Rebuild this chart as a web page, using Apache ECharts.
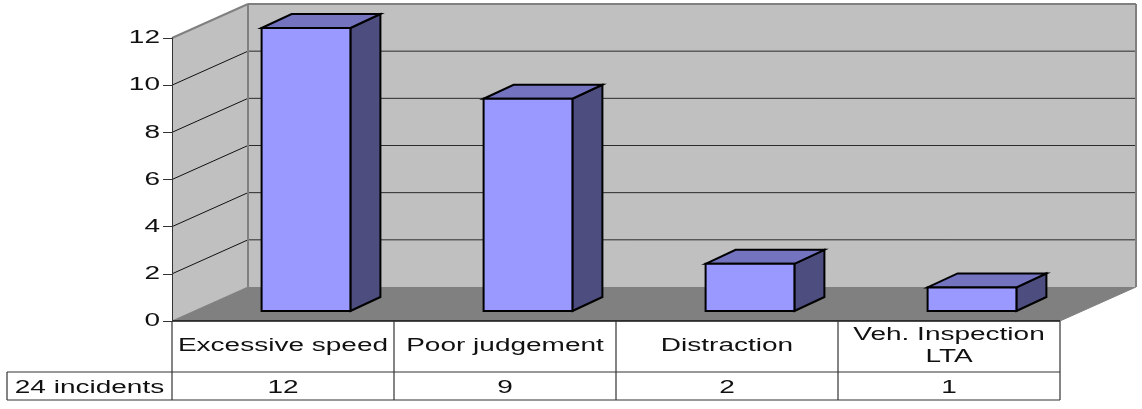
<!DOCTYPE html>
<html><head><meta charset="utf-8">
<style>html,body{margin:0;padding:0;background:#fff}#c{width:1142px;height:409px}</style>
<script src="https://cdn.jsdelivr.net/npm/echarts@6/dist/echarts.min.js"></script>
</head><body><div id="c"></div>
<script>
const categories = ['Excessive speed', 'Poor judgement', 'Distraction', 'Veh. Inspection\nLTA'];
const values = [12, 9, 2, 1];
const yTicks = [0, 2, 4, 6, 8, 10, 12];
const seriesName = '24 incidents';

const FONT = {fontFamily: 'Liberation Sans, Arial, sans-serif', fontSize: 17.5, fill: '#111', lineHeight: 22};
const STRETCH = 1.6;
const DX = 76, DY = -34;           // depth of the floor
const BX = 23, BY = -10;           // front of the bars inside the depth
const CX = 30, CY = -14;           // depth of a bar
const ROW1 = 51, ROW2 = 79;        // table row bottoms below the axis
const EDGE = '#808080', GRIDC = '#2a2a2a', TABLE = '#333';

function label(text, x, y, align) {
  return {type: 'text', x: x, y: y, scaleX: STRETCH, z2: 20,
    style: Object.assign({text: text, align: align || 'center', verticalAlign: 'middle'}, FONT)};
}
function poly(points, fill, stroke, w) {
  return {type: 'polygon', shape: {points: points},
    style: {fill: fill, stroke: stroke || null, lineWidth: w || 0, lineJoin: 'miter'}};
}
function line(x1, y1, x2, y2, stroke, w) {
  return {type: 'line', shape: {x1, y1, x2, y2}, style: {stroke: stroke, lineWidth: w || 1}};
}

function renderWalls(params, api) {
  const half = api.size([1, 0])[0] / 2;
  const o = api.coord([0, 0]);
  const last = api.coord([categories.length - 1, 0]);
  const top = api.coord([0, yTicks[yTicks.length - 1]]);
  const L = o[0] - half, R = last[0] + half, B = o[1], T = top[1];
  const kids = [
    poly([[L, B], [L + DX, B + DY], [L + DX, T + DY], [L, T]], '#C0C0C0'),
    poly([[L + DX, B + DY], [R + DX, B + DY], [R + DX, T + DY], [L + DX, T + DY]], '#C0C0C0'),
    poly([[L, B], [L + DX, B + DY], [R + DX, B + DY], [R, B]], '#808080')
  ];
  yTicks.forEach(function (t) {
    if (t === 0 || t === yTicks[yTicks.length - 1]) return;
    const y = api.coord([0, t])[1];
    kids.push(line(L, y, L + DX, y + DY, '#111', 1));
    kids.push(line(L + DX, y + DY, R + DX, y + DY, GRIDC, 1));
  });
  kids.push(line(L, T, L + DX, T + DY, EDGE, 2));
  kids.push(line(L + DX, T + DY, R + DX, T + DY, EDGE, 2));
  kids.push(line(R + DX, T + DY, R + DX, B + DY, EDGE, 2));
  kids.push(line(L + DX, T + DY, L + DX, B + DY, EDGE, 2));
  kids.push(line(L, B, L + DX, B + DY, EDGE, 1));
  kids.push(line(R, B, R + DX, B + DY, EDGE, 1));
  return {type: 'group', children: kids};
}

function renderBar(params, api) {
  const i = api.value(0);
  const base = api.coord([i, 0]);
  const top = api.coord([i, api.value(1)]);
  const w = api.size([1, 0])[0] * 0.4;
  const x0 = base[0] + BX - w / 2, x1 = x0 + w;
  const y0 = base[1] + BY, y1 = top[1] + BY;
  const s = {stroke: '#000', w: 2};
  return {type: 'group', children: [
    poly([[x1, y0], [x1 + CX, y0 + CY], [x1 + CX, y1 + CY], [x1, y1]], '#4D4D7F', s.stroke, s.w),
    poly([[x0, y1], [x0 + CX, y1 + CY], [x1 + CX, y1 + CY], [x1, y1]], '#7373BF', s.stroke, s.w),
    poly([[x0, y0], [x1, y0], [x1, y1], [x0, y1]], '#9999FF', s.stroke, s.w)
  ]};
}

function renderTable(params, api) {
  const half = api.size([1, 0])[0] / 2;
  const o = api.coord([0, 0]);
  const R = api.coord([categories.length - 1, 0])[0] + half;
  const L = o[0] - half, B = o[1];
  const kids = [
    line(L, B, R, B, '#111', 1.5),
    line(7, B + ROW1, R, B + ROW1, TABLE, 1.2),
    line(7, B + ROW2, R, B + ROW2, TABLE, 1.2),
    line(7, B + ROW1, 7, B + ROW2, TABLE, 1.2),
    line(L, B, L, B + ROW2, TABLE, 1.2)
  ];
  categories.forEach(function (c, i) {
    const x = api.coord([i, 0])[0];
    kids.push(line(x + half, B, x + half, B + ROW2, TABLE, 1.2));
    kids.push(label(c, x, B + 25.5));
    kids.push(label(String(values[i]), x, B + 67));
  });
  kids.push(label(seriesName, 89.5, B + 67));
  return {type: 'group', children: kids};
}

function renderTicks(params, api) {
  const L = api.coord([0, 0])[0] - api.size([1, 0])[0] / 2;
  return {type: 'group', children: yTicks.map(function (t) {
    return label(String(t), L - 12, api.coord([0, t])[1] + 0.5, 'right');
  })};
}

const chart = echarts.init(document.getElementById('c'), null, {renderer: 'canvas'});
chart.setOption({
  animation: false,
  backgroundColor: '#fff',
  grid: {left: 172, top: 38, width: 888, height: 283, containLabel: false},
  xAxis: {type: 'category', data: categories, axisLine: {show: false}, axisTick: {show: false}, axisLabel: {show: false}},
  yAxis: {type: 'value', min: 0, max: 12, interval: 2, splitLine: {show: false},
    axisLine: {show: true, lineStyle: {color: '#333', width: 1}},
    axisTick: {show: true, length: 9, lineStyle: {color: '#333', width: 1}},
    axisLabel: {show: false}, z: 6},
  series: [
    {type: 'custom', name: 'walls', z: 1, silent: true, clip: false, data: [[0, 0]], renderItem: renderWalls},
    {type: 'custom', name: seriesName, z: 3, clip: false, encode: {x: 0, y: 1},
      data: values.map(function (v, i) { return [i, v]; }), renderItem: renderBar},
    {type: 'custom', name: 'table', z: 4, silent: true, clip: false, data: [[0, 0]], renderItem: renderTable},
    {type: 'custom', name: 'ticks', z: 4, silent: true, clip: false, data: [[0, 0]], renderItem: renderTicks}
  ]
});
</script></body></html>
